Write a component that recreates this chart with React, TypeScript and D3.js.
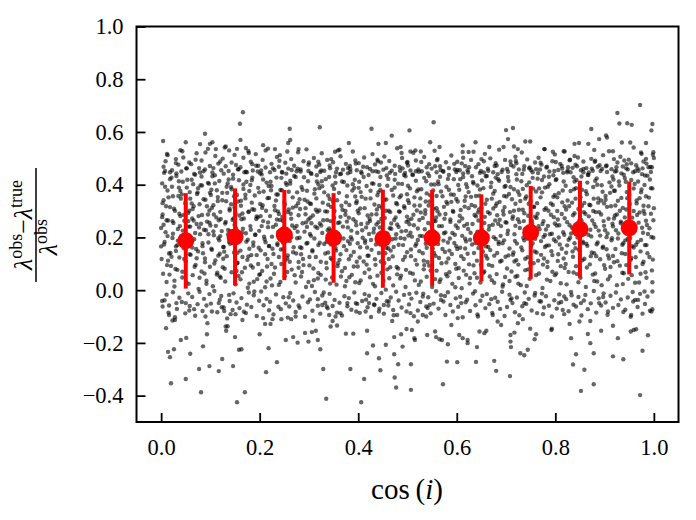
import React, { useEffect, useRef } from 'react';
import * as d3 from 'd3';

// binned means (red) with 1-sigma spread
const binCenters = [0.05, 0.15, 0.25, 0.35, 0.45, 0.55, 0.65, 0.75, 0.85, 0.95];
const binMeans = [0.187, 0.202, 0.209, 0.198, 0.195, 0.198, 0.198, 0.219, 0.231, 0.236];
const binStd = [0.181, 0.184, 0.171, 0.170, 0.186, 0.182, 0.165, 0.176, 0.184, 0.176];

const xTicks = [0, 0.2, 0.4, 0.6, 0.8, 1.0];
const yTicks = [-0.4, -0.2, 0, 0.2, 0.4, 0.6, 0.8, 1.0];

// scatter points, [cos(i), frac] both in thousandths
const scatterDense = [
  [0,236],[1,118],[2,405],[3,287],[4,62],[5,341],[6,173],[8,452],[9,220],[11,31],[13,378],[14,264],[16,139],[18,315],
  [20,92],[21,427],[23,198],[24,356],[25,255],[27,14],[28,301],[30,166],[31,443],[33,77],[34,232],[36,389],[37,124],[39,281],
  [40,347],[41,205],[43,48],[44,411],[46,159],[47,263],[49,330],[50,108],[52,462],[53,186],[55,293],[56,24],[58,372],[59,241],
  [60,134],[62,419],[63,272],[64,57],[66,318],[67,193],[69,438],[70,96],[72,251],[73,365],[75,147],[76,5],[78,326],[79,212],
  [80,398],[82,71],[83,285],[84,167],[86,451],[87,229],[89,120],[90,343],[92,36],[93,260],[95,407],[96,181],[98,302],[99,89],
  [100,245],[102,381],[103,153],[105,15],[106,322],[107,208],[109,436],[110,113],[112,276],[113,59],[115,353],[116,197],[118,414],[119,138],
  [120,297],[121,47],[123,224],[124,369],[126,164],[127,442],[129,81],[130,253],[132,337],[133,129],[135,405],[136,212],[138,-18],[139,309],
  [140,176],[142,391],[143,68],[145,267],[146,423],[148,143],[149,314],[151,22],[152,234],[154,361],[155,104],[157,458],[158,199],[159,283],
  [161,41],[162,339],[164,219],[165,126],[167,401],[168,272],[170,85],[171,348],[173,184],[174,447],[176,9],[177,296],[179,157],[179,376],
  [181,243],[182,94],[184,417],[185,307],[187,168],[188,32],[190,359],[191,210],[193,472],[194,133],[196,276],[197,388],[199,58],[199,225],
  [201,327],[202,151],[204,439],[205,73],[207,262],[208,374],[210,192],[211,11],[213,301],[214,408],[216,118],[217,239],[219,350],[219,167],
  [221,281],[222,44],[224,395],[225,203],[227,462],[228,137],[230,319],[231,86],[233,248],[234,427],[236,171],[237,363],[239,20],[239,289],
  [241,212],[242,380],[244,99],[245,448],[247,263],[248,155],[250,334],[251,53],[253,407],[254,229],[256,121],[257,296],[259,-27],[259,373],
  [261,186],[262,415],[264,271],[265,78],[267,352],[268,144],[270,433],[271,236],[273,29],[274,318],[276,197],[277,461],[279,107],[279,284],
  [281,345],[282,163],[284,52],[285,391],[287,254],[288,118],[290,428],[291,222],[293,311],[294,12],[296,377],[297,179],[299,268],[299,452],
  [301,94],[302,329],[304,206],[305,441],[307,147],[308,283],[310,38],[311,366],[313,241],[314,126],[316,412],[317,297],[319,171],[319,65],
  [321,387],[322,253],[324,108],[325,454],[327,217],[328,332],[330,-9],[331,175],[333,299],[334,421],[336,83],[337,266],[339,143],[339,359],
  [341,234],[342,473],[344,122],[345,316],[347,48],[348,397],[350,189],[351,275],[353,431],[354,160],[356,21],[357,341],[359,213],[359,102],
  [361,369],[362,257],[364,136],[365,442],[367,72],[368,305],[370,196],[371,410],[373,15],[374,286],[376,152],[377,356],[379,238],[379,463],
  [381,117],[382,323],[384,448],[385,201],[387,58],[388,378],[390,269],[391,145],[393,419],[394,30],[396,246],[397,337],[399,178],[399,90],
  [401,292],[402,411],[404,163],[405,37],[407,354],[408,227],[410,468],[411,109],[413,311],[414,189],[416,-36],[417,395],[419,254],[419,131],
  [421,437],[422,79],[424,262],[425,348],[427,153],[428,405],[430,24],[431,219],[433,325],[434,117],[436,451],[437,288],[439,190],[439,55],
  [441,372],[442,141],[444,238],[445,429],[447,66],[448,313],[450,182],[451,457],[453,103],[454,274],[456,2],[457,344],[459,215],[459,396],
  [461,158],[462,301],[464,445],[465,87],[467,233],[468,380],[470,128],[471,18],[473,266],[474,419],[476,196],[477,331],[479,60],[479,249],
  [481,404],[482,172],[484,297],[485,44],[487,359],[488,223],[490,462],[491,115],[493,318],[494,195],[496,432],[497,77],[499,279],[499,144],
  [501,341],[502,207],[504,-14],[505,386],[507,129],[508,271],[510,439],[511,62],[513,246],[514,352],[516,168],[517,415],[519,97],[519,302],
  [521,234],[522,458],[524,148],[525,321],[527,33],[528,383],[530,205],[531,274],[533,112],[534,426],[536,290],[537,176],[539,367],[539,51],
  [541,443],[542,255],[544,93],[545,336],[547,187],[548,401],[550,12],[551,228],[553,309],[554,141],[556,470],[557,262],[559,74],[559,357],
  [561,198],[562,412],[564,122],[565,287],[567,41],[568,374],[570,243],[571,156],[573,449],[574,316],[576,-22],[577,219],[579,392],[579,105],
  [581,328],[582,181],[584,437],[585,68],[587,259],[588,363],[590,137],[591,24],[593,297],[594,421],[596,210],[597,99],[599,346],[599,167],
  [601,456],[602,236],[604,84],[605,381],[607,161],[608,304],[610,7],[611,272],[613,429],[614,118],[616,339],[617,195],[619,58],[619,402],
  [621,251],[622,138],[624,372],[625,466],[627,46],[628,218],[630,323],[631,173],[633,410],[634,94],[636,285],[637,-4],[639,357],[639,201],
  [641,112],[642,397],[644,264],[645,183],[647,445],[648,29],[650,312],[651,229],[653,146],[654,387],[656,71],[657,278],[659,432],[659,166],
  [661,343],[662,207],[664,453],[665,96],[667,291],[668,152],[670,408],[671,38],[673,248],[674,366],[676,131],[677,471],[679,194],[679,319],
  [681,61],[682,284],[684,421],[685,175],[687,335],[688,109],[690,243],[691,448],[693,14],[694,301],[696,189],[697,392],[699,127],[699,258],
  [701,355],[702,82],[704,226],[705,414],[707,158],[708,296],[710,475],[711,-31],[713,271],[714,134],[716,383],[717,212],[719,51],[719,328],
  [721,440],[722,177],[724,269],[725,97],[727,362],[728,236],[730,19],[731,413],[733,151],[734,305],[736,457],[737,189],[739,76],[739,347],
  [741,221],[742,398],[744,125],[745,282],[747,462],[748,43],[750,337],[751,168],[753,254],[754,426],[756,102],[757,315],[759,195],[759,-11],
  [761,374],[762,143],[764,290],[765,444],[767,63],[768,231],[770,352],[771,186],[773,418],[774,8],[776,262],[777,120],[779,389],[779,209],
  [781,311],[782,465],[784,88],[785,244],[787,170],[788,402],[790,35],[791,329],[793,214],[794,133],[796,436],[797,277],[799,57],[799,361],
  [801,185],[802,421],[804,300],[805,111],[807,368],[808,246],[810,479],[811,26],[813,157],[814,333],[816,220],[817,412],[819,84],[819,273],
  [821,396],[822,142],[824,258],[825,453],[827,69],[828,318],[830,199],[831,376],[833,-19],[834,237],[836,127],[837,428],[839,292],[839,178],
  [841,347],[842,91],[844,470],[845,214],[847,308],[848,153],[850,405],[851,47],[853,265],[854,381],[856,184],[857,447],[859,119],[859,331],
  [861,238],[862,12],[864,364],[865,168],[867,437],[868,280],[870,98],[871,322],[873,204],[874,461],[876,59],[877,391],[879,251],[879,140],
  [881,415],[882,296],[884,174],[885,33],[887,348],[888,226],[890,474],[891,117],[893,287],[894,398],[896,161],[897,-26],[899,329],[899,244],
  [901,81],[902,357],[904,201],[905,448],[907,132],[908,271],[910,409],[911,53],[913,318],[914,189],[916,431],[917,242],[919,106],[919,377],
  [921,283],[922,156],[924,466],[925,19],[927,339],[928,215],[930,397],[931,93],[933,260],[934,443],[936,172],[937,312],[939,64],[939,229],
  [941,425],[942,137],[944,306],[945,478],[947,194],[948,43],[950,361],[951,252],[953,115],[954,418],[956,275],[957,-7],[959,386],[959,162],
  [961,224],[962,451],[964,88],[965,340],[967,183],[968,412],[970,29],[971,295],[973,147],[974,371],[976,237],[977,462],[979,108],[979,320],
  [981,399],[982,171],[984,263],[985,47],[987,434],[988,213],[990,351],[991,126],[993,467],[994,290],[996,75],[997,386],[999,199],[1000,311],
];

// second pass over the dark core of the cloud
const scatterCore = [
  [7,183],[15,352],[2,277],[12,95],[18,421],[5,248],[10,318],[0,166],[17,59],[8,392],[13,205],[3,330],[19,141],[11,265],[6,445],[14,112],
  [26,309],[33,171],[22,392],[38,243],[29,80],[35,357],[24,214],[31,433],[21,127],[37,290],[27,36],[34,188],[39,376],[23,262],[30,149],[36,413],
  [44,226],[52,389],[47,118],[57,301],[41,450],[50,173],[55,262],[43,70],[59,347],[48,198],[53,419],[46,285],[58,136],[42,363],[51,29],[56,241],
  [65,402],[71,156],[62,329],[77,238],[68,89],[74,371],[61,191],[79,446],[66,264],[72,121],[64,308],[78,47],[69,217],[75,387],[63,162],[76,281],
  [85,140],[93,318],[81,252],[97,404],[88,63],[91,227],[99,369],[84,178],[95,287],[82,431],[89,106],[96,212],[86,345],[92,24],[98,256],[83,397],
  [107,287],[114,66],[101,361],[118,189],[104,432],[111,244],[116,131],[103,312],[109,405],[119,52],[106,223],[113,379],[102,157],[117,265],[108,101],[115,338],
  [126,119],[133,392],[121,270],[138,183],[124,341],[130,33],[136,228],[122,455],[128,146],[139,302],[125,87],[134,369],[120,205],[131,259],[137,420],[127,164],
  [148,356],[154,102],[141,224],[158,417],[145,179],[151,290],[157,54],[143,383],[149,247],[155,142],[142,326],[159,200],[146,438],[153,73],[147,272],[156,336],
  [166,233],[173,411],[161,150],[178,299],[164,68],[171,362],[176,191],[163,269],[169,447],[175,115],[162,320],[179,25],[167,384],[172,216],[177,128],[165,291],
  [186,86],[193,270],[181,399],[198,161],[184,332],[191,210],[196,450],[183,133],[189,305],[195,42],[182,229],[199,371],[187,181],[194,280],[185,427],[197,99],
  [205,312],[212,182],[201,61],[218,395],[204,243],[211,136],[216,349],[203,454],[209,203],[215,90],[202,281],[219,168],[207,420],[214,33],[206,322],[217,257],
  [226,157],[233,340],[221,447],[238,222],[224,99],[231,303],[236,177],[223,379],[229,62],[235,268],[222,411],[239,126],[227,240],[234,363],[225,18],[237,299],
  [245,379],[252,113],[241,266],[258,194],[244,426],[251,325],[256,69],[243,154],[249,237],[255,400],[242,31],[259,306],[247,181],[254,442],[246,278],[257,132],
  [266,245],[273,429],[261,108],[278,330],[264,200],[271,57],[276,371],[263,290],[269,163],[275,244],[262,404],[279,85],[267,313],[274,139],[265,456],[277,222],
  [286,69],[293,288],[281,199],[298,413],[284,136],[291,343],[296,240],[283,450],[289,95],[295,177],[282,308],[299,31],[287,381],[294,257],[285,160],[297,336],
  [305,254],[312,383],[301,126],[318,44],[304,327],[311,196],[316,436],[303,275],[309,82],[315,348],[302,213],[319,402],[307,152],[314,305],[306,16],[317,236],
  [326,413],[333,139],[321,302],[338,227],[324,58],[331,371],[336,184],[323,448],[329,265],[335,104],[322,180],[339,324],[327,394],[334,40],[325,245],[337,298],
  [345,173],[352,300],[341,429],[358,91],[344,262],[351,384],[356,211],[343,25],[349,337],[355,150],[342,346],[359,255],[347,116],[354,407],[346,226],[357,461],
  [366,320],[373,84],[361,200],[378,397],[364,278],[371,167],[376,35],[363,440],[369,241],[375,333],[362,115],[379,186],[367,412],[374,300],[365,52],[377,260],
  [385,131],[392,388],[381,275],[398,218],[384,459],[391,90],[396,330],[383,176],[389,402],[395,260],[382,49],[399,301],[387,192],[394,355],[386,226],[397,108],
  [406,251],[413,66],[401,388],[418,162],[404,310],[411,429],[416,238],[403,124],[409,199],[415,347],[402,27],[419,283],[407,443],[414,180],[405,372],[417,97],
  [425,377],[432,233],[421,131],[438,306],[424,49],[431,404],[436,173],[423,271],[429,451],[435,96],[422,213],[439,360],[427,287],[434,15],[426,190],[437,249],
  [446,109],[453,343],[441,258],[458,435],[444,184],[451,36],[456,301],[443,399],[449,222],[455,140],[442,319],[459,79],[447,270],[454,203],[445,380],[457,161],
  [465,296],[472,164],[461,422],[478,88],[464,235],[471,359],[476,276],[463,45],[469,193],[475,441],[462,118],[479,326],[467,253],[474,389],[466,150],[477,212],
  [486,198],[493,437],[481,82],[498,259],[484,352],[491,171],[496,12],[483,299],[489,403],[495,127],[482,240],[499,364],[487,55],[494,312],[485,453],[497,225],
  [505,66],[512,286],[501,396],[518,176],[504,250],[511,437],[516,114],[503,331],[509,203],[515,37],[502,265],[519,375],[507,154],[514,321],[506,218],[517,451],
  [526,348],[533,79],[521,190],[538,413],[524,266],[531,140],[536,303],[523,20],[529,451],[535,231],[522,382],[539,161],[527,295],[534,95],[525,206],[537,336],
  [545,214],[552,378],[541,107],[558,276],[544,433],[551,158],[556,42],[543,321],[549,245],[555,401],[542,186],[559,311],[547,75],[554,263],[546,360],[557,130],
  [566,430],[573,188],[561,299],[578,61],[564,243],[571,356],[576,145],[563,402],[569,102],[575,271],[562,175],[579,335],[567,456],[574,216],[565,31],[577,289],
  [585,150],[592,300],[581,53],[598,245],[584,381],[591,217],[596,458],[583,120],[589,335],[595,179],[582,422],[599,81],[587,268],[594,362],[586,196],[597,11],
  [606,282],[613,443],[601,156],[618,355],[604,46],[611,206],[616,317],[603,399],[609,129],[615,244],[602,336],[619,185],[607,421],[614,74],[605,261],[617,158],
  [625,98],[632,251],[621,390],[638,179],[624,311],[631,432],[636,64],[623,232],[629,354],[635,141],[622,455],[639,280],[627,191],[634,405],[626,25],[637,318],
  [646,358],[653,205],[641,47],[658,328],[644,160],[651,416],[656,255],[643,295],[649,96],[655,446],[642,222],[659,131],[647,382],[654,66],[645,306],[657,183],
  [665,230],[672,92],[661,433],[678,264],[664,164],[671,347],[676,28],[663,296],[669,391],[675,201],[662,120],[679,427],[667,52],[674,310],[666,244],[677,376],
  [686,415],[693,178],[681,329],[698,50],[684,252],[691,112],[696,357],[683,440],[689,206],[695,287],[682,141],[699,395],[687,267],[694,22],[685,183],[697,315],
  [705,132],[712,345],[701,256],[718,187],[704,429],[711,71],[716,301],[703,213],[709,391],[715,143],[702,460],[719,244],[707,35],[714,280],[706,365],[717,109],
  [726,305],[733,441],[721,114],[738,230],[724,374],[731,162],[736,262],[723,54],[729,338],[735,199],[722,420],[739,119],[727,258],[734,384],[725,25],[737,292],
  [745,79],[752,264],[741,355],[758,147],[744,196],[751,455],[756,317],[743,233],[749,104],[755,385],[742,16],[759,279],[747,409],[754,178],[746,328],[757,220],
  [766,243],[773,371],[761,57],[778,305],[764,423],[771,134],[776,202],[763,330],[769,458],[775,97],[762,274],[779,164],[767,386],[774,251],[765,112],[777,431],
  [785,392],[792,148],[781,230],[798,452],[784,108],[791,286],[796,354],[783,40],[789,212],[795,323],[782,169],[799,253],[787,430],[794,70],[786,301],[797,192],
  [806,136],[813,289],[801,418],[818,210],[804,352],[811,91],[816,445],[803,245],[809,173],[815,378],[802,63],[819,318],[807,200],[814,461],[805,268],[817,120],
  [825,340],[832,215],[821,99],[838,383],[824,170],[831,447],[836,284],[823,22],[829,246],[835,147],[822,306],[839,412],[827,191],[834,332],[826,466],[837,67],
  [846,228],[853,431],[841,159],[858,296],[844,61],[851,352],[856,178],[843,418],[849,265],[855,113],[842,387],[859,244],[847,30],[854,320],[845,200],[857,460],
  [865,408],[872,129],[861,290],[878,347],[864,86],[871,229],[876,453],[863,176],[869,324],[875,264],[862,375],[879,35],[867,210],[874,143],[866,438],[877,300],
  [886,181],[893,340],[881,63],[898,262],[884,424],[891,207],[896,373],[883,129],[889,296],[895,460],[882,240],[899,95],[887,332],[894,19],[885,400],[897,165],
  [905,316],[912,88],[901,227],[918,420],[904,155],[911,369],[916,252],[903,470],[909,120],[915,197],[902,343],[919,272],[907,41],[914,393],[906,215],[917,130],
  [926,110],[933,254],[921,377],[938,178],[924,452],[931,301],[936,66],[923,227],[929,412],[935,140],[922,321],[939,438],[927,196],[934,350],[925,287],[937,23],
  [945,372],[952,198],[941,276],[958,447],[944,95],[951,327],[956,167],[943,411],[949,234],[955,57],[942,189],[959,300],[947,458],[954,122],[946,349],[957,253],
  [966,285],[973,62],[961,403],[978,218],[964,172],[971,349],[976,440],[963,125],[969,256],[975,382],[962,28],[979,301],[967,462],[974,190],[965,329],[977,99],
  [985,171],[992,420],[981,290],[998,116],[984,356],[991,235],[996,466],[983,68],[989,318],[995,202],[982,435],[999,265],[987,140],[994,387],[986,247],[997,30],
];

// soft edges of the band, just below zero and just above 0.44
const scatterFringe = [
  [3,-62],[11,-17],[16,-94],[7,-38],[5,468],[13,512],[18,447],[9,489],
  [24,-8],[32,-71],[37,-29],[28,-103],[22,455],[30,497],[35,476],[39,531],
  [42,-45],[49,-88],[55,-12],[58,-60],[45,503],[51,462],[57,484],[43,527],
  [63,-26],[69,-97],[74,-53],[78,-6],[61,478],[67,441],[72,519],[77,463],
  [84,-79],[87,-33],[92,-58],[98,-15],[82,492],[89,458],[95,536],[99,471],
  [101,-51],[108,-3],[114,-84],[119,-36],[104,446],[110,509],[116,480],[106,463],
  [122,-22],[127,-66],[134,-107],[139,-41],[125,499],[131,470],[137,452],[129,541],
  [141,-91],[147,-12],[153,-47],[159,-68],[143,484],[149,513],[156,459],[152,475],
  [163,-30],[168,-82],[174,-55],[178,-9],[161,466],[167,502],[172,449],[177,528],
  [183,-64],[188,-19],[194,-98],[199,-40],[182,487],[186,454],[192,516],[197,472],
  [203,-5],[208,-57],[214,-33],[219,-76],[201,443],[206,494],[212,465],[217,537],
  [221,-44],[228,-92],[233,-16],[238,-63],[224,479],[230,456],[235,505],[239,468],
  [243,-72],[248,-27],[253,-50],[257,-104],[241,512],[246,446],[252,483],[258,461],
  [262,-11],[268,-39],[273,-83],[279,-58],[264,497],[270,472],[275,451],[278,523],
  [281,-67],[287,-24],[292,-101],[298,-46],[283,458],[289,489],[295,534],[299,476],
  [302,-35],[307,-78],[312,-7],[318,-59],[304,444],[310,501],[315,469],[319,487],
  [323,-89],[327,-20],[333,-48],[338,-69],[321,476],[326,519],[331,453],[337,494],
  [342,-14],[348,-60],[352,-37],[357,-85],[343,462],[349,485],[355,447],[359,530],
  [362,-48],[367,-96],[372,-23],[378,-61],[364,508],[369,457],[375,479],[379,443],
  [381,-30],[386,-74],[392,-9],[398,-52],[383,471],[389,526],[394,492],[397,455],
  [403,-86],[408,-41],[413,-15],[419,-65],[401,482],[406,449],[412,503],[418,466],
  [422,-21],[426,-102],[432,-54],[437,-33],[424,460],[429,516],[434,477],[439,495],
  [443,-70],[447,-11],[452,-89],[458,-42],[441,448],[446,484],[453,507],[457,463],
  [461,-58],[466,-28],[472,-95],[477,-6],[463,490],[468,453],[474,472],[479,538],
  [482,-39],[488,-66],[493,-18],[498,-81],[484,467],[489,501],[495,445],[499,483],
  [503,-54],[508,-32],[513,-99],[518,-10],[501,473],[506,454],[512,521],[517,492],
  [521,-77],[526,-45],[532,-13],[538,-62],[523,449],[528,486],[534,505],[539,466],
  [542,-27],[547,-88],[553,-51],[558,-4],[544,478],[549,461],[555,529],[559,447],
  [563,-70],[568,-19],[573,-43],[577,-94],[561,498],[566,470],[572,452],[578,485],
  [582,-8],[587,-56],[592,-81],[598,-31],[584,463],[589,511],[595,479],[599,448],
  [603,-63],[607,-25],[612,-103],[618,-46],[601,487],[606,455],[613,502],[617,471],
  [621,-36],[627,-79],[633,-13],[638,-57],[623,446],[629,494],[634,525],[639,466],
  [642,-92],[648,-40],[652,-21],[658,-68],[644,478],[649,452],[655,489],[657,517],
  [661,-15],[666,-53],[672,-86],[678,-29],[663,461],[668,500],[674,447],[679,482],
  [683,-44],[688,-71],[692,-6],[697,-98],[681,473],[686,533],[693,457],[698,494],
  [702,-64],[707,-17],[713,-49],[718,-84],[704,449],[709,488],[715,469],[719,506],
  [722,-28],[727,-95],[733,-61],[738,-9],[721,481],[726,458],[732,522],[737,470],
  [741,-52],[746,-33],[752,-77],[758,-20],[743,496],[748,465],[754,447],[759,484],
  [763,-87],[768,-42],[773,-13],[777,-66],[761,459],[766,502],[772,476],[778,535],
  [781,-23],[787,-59],[793,-100],[798,-38],[783,468],[788,450],[794,489],[799,515],
  [803,-70],[808,-16],[812,-45],[818,-91],[801,486],[806,456],[813,471],[817,527],
  [822,-34],[827,-80],[832,-7],[837,-55],[824,447],[829,493],[835,464],[839,509],
  [842,-62],[847,-26],[853,-96],[858,-39],[841,476],[846,503],[852,455],[857,488],
  [861,-18],[866,-72],[872,-50],[878,-3],[863,463],[868,446],[873,498],[879,532],
  [883,-85],[888,-31],[893,-58],[898,-12],[881,491],[886,468],[892,452],[897,512],
  [902,-47],[906,-93],[912,-21],[917,-67],[904,473],[909,527],[914,459],[919,497],
  [923,-9],[928,-56],[933,-35],[938,-83],[921,450],[926,484],[932,506],[937,469],
  [942,-74],[947,-28],[953,-101],[958,-43],[944,462],[949,495],[954,481],[959,541],
  [962,-37],[967,-64],[972,-14],[977,-89],[964,474],[969,453],[975,517],[979,488],
  [982,-52],[987,-24],[992,-78],[997,-5],[984,498],[989,466],[994,448],[999,523],
];

// sparse points below zero
const scatterLow = [
  [2,-41],[15,-85],[23,-115],[28,-113],[10,-144],[40,-189],[51,-181],[14,-234],[18,-254],[26,-224],[59,-241],[20,-353],[50,-337],[77,-299],
  [85,-213],[81,-387],[93,-167],[98,-288],[117,-307],[124,-261],[146,-288],[154,-425],[150,-178],[158,-226],[163,-224],[170,-387],[132,-154],
  [135,-137],[200,-167],[213,-311],[218,-220],[235,-273],[253,-189],[268,-178],[277,-199],[292,-162],[299,-195],[306,-159],[314,-154],[318,-189],
  [323,-224],[329,-299],[335,-412],[348,-117],[357,-134],[375,-165],[384,-299],[390,-165],[406,-425],[412,-337],[418,-154],[418,-239],[430,-210],
  [442,-258],[445,-304],[456,-207],[473,-178],[473,-243],[481,-281],[474,-331],[477,-369],[490,-214],[487,-167],[498,-147],
  [16,-58],[31,-49],[50,-49],[57,-77],[67,-72],[90,-100],[94,-125],[103,-81],[117,-49],[123,-65],[128,-79],[131,-138],[145,-75],[151,-91],
  [165,-113],[172,-87],[189,-5],[207,-106],[211,-128],[222,-128],[226,-110],[244,-110],[260,-62],[264,-110],[273,-100],[308,-115],[318,-34],
  [327,-56],[336,-62],[341,-94],[344,-138],[354,-100],[364,-87],[378,-49],[395,-49],[396,-81],[415,-81],[422,-49],[433,-56],[442,-81],
  [452,-56],[462,-43],[471,-75],[479,-94],[469,-117],
  [507,-281],[507,-378],[509,-151],[514,-182],[515,-189],[506,-87],[521,-119],[531,-94],[538,-100],[541,-68],[545,-56],[540,-170],[556,-157],
  [558,-178],[565,-186],[570,-189],[572,-357],[580,-271],[582,-205],[589,-132],[601,-273],[602,-106],[605,-170],[612,-182],[622,-189],[622,-201],
  [639,-272],[641,-216],[646,-157],[656,-163],[660,-154],[643,-100],[673,-94],[676,-268],[680,-306],[683,-119],[690,-132],[708,-326],[709,-170],
  [709,-195],[710,-216],[717,-161],[729,-239],[737,-247],[744,-226],[749,-146],[758,-186],[761,-167],[734,-110],[724,-125],[775,-91],[792,-151],
  [793,-146],[807,-49],[815,-75],[829,-128],[832,-182],[836,-282],[842,-243],[849,-119],[852,-382],[859,-302],[866,-166],[871,-201],[871,-117],
  [878,-239],[878,-357],[893,-154],[907,-81],[917,-135],[917,-251],[927,-182],[938,-262],[953,-157],[959,-151],[964,-148],[972,-398],[977,-230],
  [988,-171],[995,-81],[997,-72],[954,-94],[968,-37],[981,-5],[889,-49],[852,-49],[818,-24],[771,-43],[737,-49],[709,-37],[670,-34],[609,-49],
  [568,-37],[531,-24],
];

// sparse points above the dense band
const scatterHigh = [
  [4,566],[12,517],[50,561],[79,554],[89,593],[99,555],[104,561],[90,522],[111,535],[131,545],[138,530],[154,536],[160,631],[166,675],
  [161,570],[172,539],[178,520],[207,550],[212,530],[231,535],[258,558],[261,612],[262,570],[279,535],[256,526],[322,618],[353,525],[362,533],
  [381,558],[427,612],[441,555],[456,558],[468,586],[486,543],[488,520],[504,606],[506,526],[516,530],[527,526],[546,561],[553,637],[565,543],
  [612,549],[624,524],[612,524],[638,561],[666,543],[695,543],[700,607],[704,573],[714,615],[716,545],[739,564],[749,564],[724,535],[778,535],
  [795,525],[819,526],[839,555],[848,558],[867,555],[873,611],[889,573],[903,587],[905,579],[917,527],[926,672],[930,632],[935,560],[946,633],
  [952,560],[955,627],[972,702],[974,522],[984,558],[997,630],[995,606],[1000,501],[998,514],
  [30,482],[70,495],[120,488],[185,478],[240,491],[300,484],[345,497],[395,480],[440,489],[500,486],[560,493],[610,481],[650,497],[720,490],
  [770,483],[830,495],[880,487],[940,492],[985,480],
];

const FONT = '"Liberation Serif", "DejaVu Serif", serif';

export default function App() {
  const ref = useRef<SVGSVGElement>(null);

  useEffect(() => {
    const svg = d3.select(ref.current);
    svg.selectAll('*').remove();

    const x = d3.scaleLinear().domain([-0.05, 1.05]).range([136.5, 678.5]);
    const y = d3.scaleLinear().domain([-0.5, 1.0]).range([422, 26.5]);

    const pts = scatterDense.concat(scatterCore, scatterFringe, scatterLow, scatterHigh)
      .map(d => [d[0] / 1000, d[1] / 1000]);

    // scatter
    svg.append('g')
      .selectAll('circle')
      .data(pts)
      .enter().append('circle')
      .attr('cx', d => x(d[0]))
      .attr('cy', d => y(d[1]))
      .attr('r', 2.2)
      .attr('fill', '#000')
      .attr('fill-opacity', 0.6);

    // error bars
    const bins = binCenters.map((c, i) => ({ c, m: binMeans[i], s: binStd[i] }));
    svg.append('g')
      .selectAll('line')
      .data(bins)
      .enter().append('line')
      .attr('x1', d => x(d.c))
      .attr('x2', d => x(d.c))
      .attr('y1', d => y(d.m - d.s))
      .attr('y2', d => y(d.m + d.s))
      .attr('stroke', 'red')
      .attr('stroke-width', 4);
    svg.append('g')
      .selectAll('circle')
      .data(bins)
      .enter().append('circle')
      .attr('cx', d => x(d.c))
      .attr('cy', d => y(d.m))
      .attr('r', 8.5)
      .attr('fill', 'red');

    // axes, ticks pointing in
    const fmt = d3.format('.1f');
    const gx = svg.append('g')
      .attr('transform', 'translate(0,422)')
      .call(d3.axisBottom(x).tickValues(xTicks).tickFormat(d => fmt(d as number))
        .tickSizeInner(-9).tickSizeOuter(0).tickPadding(17));
    const gy = svg.append('g')
      .attr('transform', 'translate(136.5,0)')
      .call(d3.axisLeft(y).tickValues(yTicks).tickFormat(d => fmt(d as number))
        .tickSizeInner(-9).tickSizeOuter(0).tickPadding(13));
    [gx, gy].forEach(g => {
      g.select('.domain').remove();
      g.selectAll('.tick line').attr('stroke', '#000').attr('stroke-width', 1.8);
      g.selectAll('.tick text').attr('fill', '#000')
        .style('font-family', FONT).style('font-size', '22.5px');
    });

    // frame
    svg.append('rect')
      .attr('x', 136.5).attr('y', 26.5)
      .attr('width', 542).attr('height', 395.5)
      .attr('fill', 'none').attr('stroke', '#000').attr('stroke-width', 2);

    // x label
    const xl = svg.append('text')
      .attr('x', 407).attr('y', 499)
      .attr('text-anchor', 'middle')
      .style('font-family', FONT).style('font-size', '29px');
    xl.append('tspan').text('cos\u2009(');
    xl.append('tspan').attr('font-style', 'italic').text('i');
    xl.append('tspan').text(')');

    // y label as a fraction
    const yl = svg.append('g')
      .attr('transform', 'translate(36,225) rotate(-90)')
      .style('font-family', FONT);
    const num = yl.append('text').attr('x', 0).attr('y', -4)
      .attr('text-anchor', 'middle').style('font-size', '26px');
    num.append('tspan').attr('font-style', 'italic').text('λ');
    num.append('tspan').attr('dy', -10).style('font-size', '18px').text('obs');
    num.append('tspan').attr('dy', 10).text('−');
    num.append('tspan').attr('font-style', 'italic').text('λ');
    num.append('tspan').attr('dy', -10).style('font-size', '18px').text('true');
    yl.append('line')
      .attr('x1', -57).attr('x2', 57).attr('y1', 0).attr('y2', 0)
      .attr('stroke', '#000').attr('stroke-width', 1.5);
    const den = yl.append('text').attr('x', -12).attr('y', 21)
      .attr('text-anchor', 'middle').style('font-size', '26px');
    den.append('tspan').attr('font-style', 'italic').text('λ');
    den.append('tspan').attr('dy', -10).style('font-size', '18px').text('obs');
  }, []);

  return (
    <svg ref={ref} width={696} height={520}
      style={{ position: 'absolute', left: 0, top: 0, background: '#fff' }} />
  );
}
